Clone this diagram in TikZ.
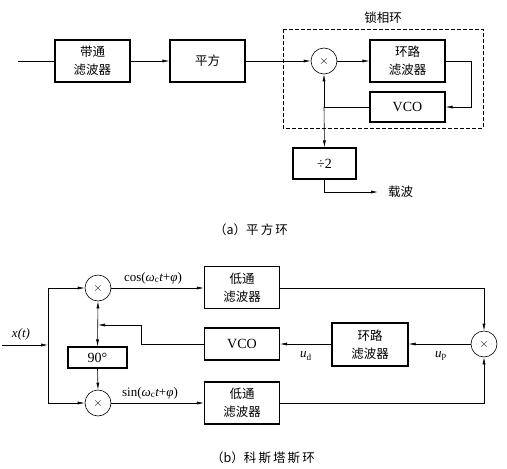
\documentclass[tikz,border=0pt]{standalone}
\usepackage{fontspec}
\setmainfont{Liberation Serif}
\newfontfamily\cjk{Noto Sans CJK SC}
\usetikzlibrary{arrows.meta}
\begin{document}
\begin{tikzpicture}[x=1pt,y=-1pt,
  blk/.style={draw, line width=1.1pt, minimum width=75pt, minimum height=42pt, inner sep=0pt, align=center, font=\cjk\fontsize{12.5}{18}\selectfont},
  mul/.style={draw, circle, line width=0.6pt, minimum size=26pt, inner sep=0pt, font=\fontsize{12}{12}\selectfont},
  conn/.style={line width=0.6pt},
  arr/.style={conn, -{Latex[length=7pt,width=3pt]}},
  darr/.style={conn, {Latex[length=7pt,width=3pt]}-{Latex[length=7pt,width=3pt]}},
  lbl/.style={font=\cjk\fontsize{12.5}{14}\selectfont, inner sep=0pt},
  txt/.style={font=\fontsize{13}{15}\selectfont, inner sep=0pt},
  big/.style={font=\fontsize{14}{16}\selectfont},
]
\useasboundingbox (0,0) rectangle (507,469);
% ---------- (a) ----------
\node[blk] (bpf) at (92.5,61) {带通\\滤波器};
\node[blk] (sq) at (207.5,61) {平方};
\node[mul] (ma) at (324,61) {$\times$};
\node[blk] (lfa) at (407.5,61) {环路\\滤波器};
\node[blk, minimum height=30pt, big] (vcoa) at (407.5,107) {VCO};
\node[blk, minimum width=63pt, minimum height=31pt, big] (div) at (324.5,163.5) {÷2};
\draw[conn, dashed, dash pattern=on 4pt off 2pt] (283,29) rectangle (483,128);
\node[lbl] (pll) at (383,18) {锁相环};
\coordinate (ain) at (18,61);
\draw[conn] (ain) -- (bpf.west);
\draw[arr] (bpf) -- (sq);
\draw[arr] (sq) -- (ma);
\draw[arr] (ma) -- (lfa);
\coordinate (ra) at (471,61);
\draw[arr] (lfa.east) -- (ra) |- (vcoa.east);
\coordinate (ja) at (324,107);
\draw[conn] (vcoa.west) -- (ja);
\draw[arr] (ja) -- (ma.south);
\draw[arr] (ja) -- (div.north);
\node[lbl, anchor=west] (car) at (388,192) {载波};
\coordinate (carend) at (378,192);
\draw[arr] (div.south) |- (carend);
\node[lbl] (capa) at (251,230) {（a）平\,方\,环};
% ---------- (b) ----------
\node[mul] (mt) at (98,288) {$\times$};
\node[mul] (mb) at (98,403) {$\times$};
\node[blk, minimum width=59pt, minimum height=21pt, big] (ph) at (97.5,357.5) {90°};
\node[blk] (lpt) at (242,287.5) {低通\\滤波器};
\node[blk, minimum height=32pt, big] (vcob) at (242,344) {VCO};
\node[blk] (lpb) at (242,403) {低通\\滤波器};
\node[blk, minimum width=76pt, minimum height=43pt] (lfb) at (370,344.5) {环路\\滤波器};
\node[mul] (mr) at (484,344) {$\times$};
\coordinate (xin) at (2,345);
\coordinate (jb) at (48,345);
\coordinate (jt) at (48,288);
\coordinate (jbb) at (48,403);
\node[txt] (xt) at (21,334) {\itshape x(t)};
\draw[arr] (xin) -- (jb);
\draw[conn] (jt) -- (jbb);
\draw[arr] (jt) -- (mt.west);
\draw[arr] (jbb) -- (mb.west);
\coordinate (jv) at (98,325);
\draw[darr] (mt.south) -- (ph.north);
\draw[arr] (ph.south) -- (mb.north);
\coordinate (kv) at (141,325);
\draw[arr] (vcob.west) -| (kv) -- (jv);
\draw[arr] (mt.east) -- (lpt.west |- mt.east);
\draw[arr] (mb.east) -- (lpb.west |- mb.east);
\node[txt, anchor=south] (cosl) at (153,284) {cos({\itshape ω}\textsubscript{c}{\itshape t}+{\itshape φ})};
\node[txt, anchor=south] (sinl) at (150,399) {sin({\itshape ω}\textsubscript{c}{\itshape t}+{\itshape φ})};
\draw[arr] (lpt.east |- mt.east) -| (mr.north);
\draw[arr] (lpb.east |- mb.east) -| (mr.south);
\draw[arr] (mr.west) -- (lfb.east |- mr.west);
\draw[arr] (lfb.west |- mr.west) -- (vcob.east |- mr.west);
\node[txt] (ud) at (306,356) {{\itshape u}\textsubscript{d}};
\node[txt] (up) at (441,356) {{\itshape u}\textsubscript{p}};
\node[lbl] (capb) at (263,458) {（b）科\,斯\,塔\,斯\,环};
\end{tikzpicture}
\end{document}
